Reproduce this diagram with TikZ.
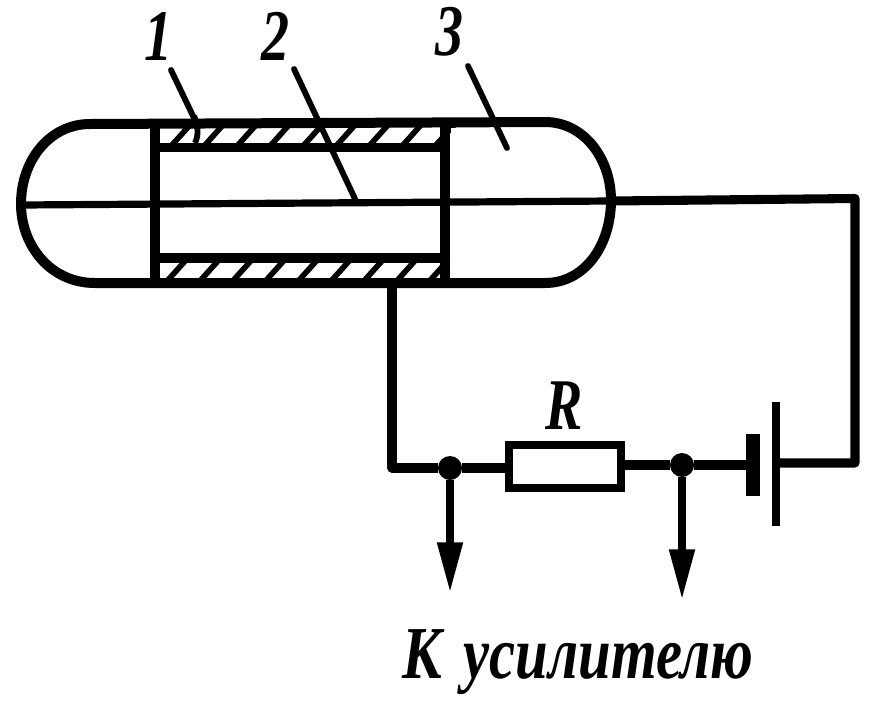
\documentclass[tikz,border=0pt]{standalone}
\usepackage{fontspec}
\setmainfont{Liberation Serif}
\usetikzlibrary{arrows.meta}
\tikzset{
  body/.style={line width=7.5pt,line cap=butt,line join=miter},
  wire/.style={line width=6.8pt,line join=round},
  hatch/.style={line width=4.2pt},
  leader/.style={line width=4.4pt,line cap=round},
  dotnode/.style={circle,fill=black,inner sep=0pt,minimum size=18pt},
  res/.style={draw,line width=6pt,fill=white,minimum width=84pt,minimum height=32pt,inner sep=0pt},
  digit/.style={font=\fontsize{42pt}{42pt}\bfseries\itshape,xscale=1,yscale=1.3,transform shape,inner sep=0pt},
  capt/.style={font=\fontsize{40pt}{40pt}\bfseries\itshape,xscale=1.1,yscale=1.4,transform shape,inner sep=0pt},
  tap/.style={line width=6pt,-{Triangle[length=38pt,width=18pt]}}
}
\begin{document}
\begin{tikzpicture}[x=0.75pt,y=-0.75pt]
\useasboundingbox (0,0) rectangle (880,700);
% hatching
\foreach \k in {0,...,8}{
  \draw[hatch] ({172+33*\k},145) -- ({190+33*\k},125);
  \draw[hatch] ({168+32.8*\k},280) -- ({186+32.8*\k},260);
}
\fill[white] (161,152) rectangle (440,253);
\fill[white] (120,100) rectangle (151,128);
\fill[white] (120,279) rectangle (151,262);
\fill[white] (451,128) rectangle (480,150);
\fill[white] (451,278) rectangle (480,258);
% envelope
\draw[body] (90,124) -- (545,122)
  .. controls (585,122) and (611,160) .. (611,200)
  .. controls (611,245) and (585,283) .. (545,283)
  -- (95,283)
  .. controls (50,283) and (21,245) .. (21,204)
  .. controls (21,160) and (50,124) .. (90,124) -- cycle;
% tube
\draw[body] (155,124) -- (155,283);
\draw[body] (445,122) -- (445,283);
\draw[line width=6.8pt] (155,147.5) -- (445,147.5);
\draw[line width=6.8pt] (155,258) -- (445,258);
% axis
\draw[line width=5.4pt] (21,205) -- (611,201);
% leaders
\draw[leader] (171,70) -- (194,118);
\draw[leader,line cap=butt] (194,116) .. controls (198,125) and (199,135) .. (195,143);
\draw[leader] (294,69) -- (356,201);
\draw[leader] (468,66) -- (507,148);
% circuit
\node[res] (r) at (565,466.5) {};
\node[dotnode] (d1) at (450,468) {};
\node[dotnode] (d2) at (682,465) {};
\coordinate (tube) at (392,283);
\coordinate (corner1) at (392,468);
\coordinate (out) at (611,201);
\coordinate (corner2) at (855,198.5);
\coordinate (corner3) at (855,463);
\coordinate (bat1) at (753,465);
\coordinate (bat2) at (776,463);
\coordinate (a1) at (450,593);
\coordinate (a2) at (682,600);
\draw[wire] (tube) -- (corner1) -- (d1) -- (r.west |- d1);
\draw[wire] (r.east |- d2) -- (d2) -- (bat1);
\draw[wire] (out) -- (corner2) -- (corner3) -- (bat2);
\fill (746,434) rectangle (760,496);
\fill (772,402) rectangle (780,526);
\draw[tap] (d1) -- (a1);
\draw[tap] (d2) -- (a2);
% labels
\node[digit] (l1) at (158,36) {1};
\node[digit] (l2) at (275,36) {2};
\node[digit] (l3) at (449,32) {3};
\node[digit] (lr) at (564,406) {R};
\node[capt,anchor=base] (lk) at (578,678) {К\hspace{0.12em} усилителю};
\end{tikzpicture}
\end{document}
